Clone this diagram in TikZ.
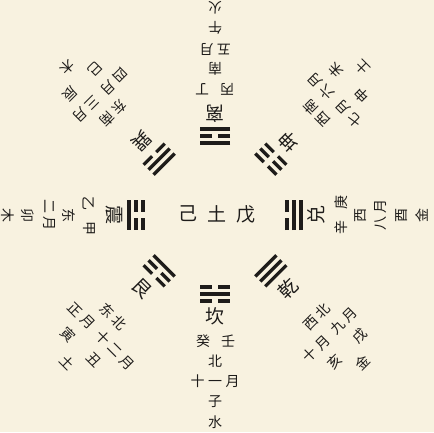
\documentclass[tikz,border=0pt]{standalone}
\usepackage{fontspec}
\newfontfamily\cjk{Noto Sans CJK SC}
\definecolor{bg}{RGB}{248,242,224}
\definecolor{ink}{RGB}{30,28,26}
\newcommand\chgap{\hspace{3.5pt}}
\tikzset{
 txt/.style={font=\cjk\fontsize{14}{14}\selectfont, text=ink, inner sep=0pt, transform shape},
 bigtxt/.style={font=\cjk\fontsize{19}{19}\selectfont, text=ink, inner sep=0pt, transform shape},
 yao/.style={line width=3.3pt, draw=ink},
}
\newcommand\yaoline[2]{%
 \ifnum#2=1 \draw[yao] (-15,#1) -- (15,#1);
 \else \draw[yao] (-15,#1) -- (-3,#1) (3,#1) -- (15,#1); \fi}
\newcommand\trig[4]{%
 \begin{scope}[shift={(215,-215)}, rotate=#1]
 \yaoline{-86}{#2}\yaoline{-79}{#3}\yaoline{-72}{#4}
 \end{scope}}
\newcommand\cardsec[9]{%
 \begin{scope}[shift={(215,-215)}, rotate=#1]
 \node[bigtxt] (#2n) at (0,-101) {#3};
 \node[txt] (#2sl) at (-12,-126) {#4};
 \node[txt] (#2sr) at (13,-126) {#5};
 \node[txt] (#2d) at (0,-146) {#6};
 \node[txt] (#2m) at (0,-166) {#7};
 \node[txt] (#2b) at (0,-187) {#8};
 \node[txt] (#2e) at (0,-207) {#9};
 \end{scope}}
\newcommand\diagsec[9]{%
 \begin{scope}[shift={(215,-215)}, rotate=#1]
 \node[bigtxt] (#2n) at (0,-104) {#3};
 \node[txt] (#2d) at (0,-144) {#4};
 \node[txt, anchor=east] (#2ml) at (-7,-166) {#5};
 \node[txt, anchor=west] (#2mr) at (0,-166) {#6};
 \node[txt] (#2bl) at (-19,-188) {#7};
 \node[txt] (#2br) at (17,-188) {#8};
 \node[txt] (#2e) at (0,-209) {#9};
 \end{scope}}
\begin{document}
\begin{tikzpicture}[x=1pt,y=1pt]
\useasboundingbox (0,0) rectangle (434,-432);
\fill[bg] (0,0) rectangle (434,-432);
% centre
\node[bigtxt] (ji) at (188,-214) {己};
\node[bigtxt] (tu) at (217,-214) {土};
\node[bigtxt] (wu) at (246,-214) {戊};
% cardinal sectors
\cardsec{0}{kan}{坎}{癸}{壬}{北}{十\chgap 一\chgap 月}{子}{水}
\cardsec{180}{li}{离}{丙}{丁}{南}{五\chgap 月}{午}{火}
\cardsec{-90}{zhen}{震}{乙}{甲}{东}{二\chgap 月}{卯}{木}
\cardsec{90}{dui}{兑}{辛}{庚}{西}{八\chgap 月}{酉}{金}
% diagonal sectors
\diagsec{-45}{gen}{艮}{东\chgap 北}{正\chgap 月}{十\chgap 二\chgap 月}{寅}{丑}{土}
\diagsec{-135}{xun}{巽}{东\chgap 南}{四\chgap 月}{三\chgap 月}{巳}{辰}{木}
\diagsec{135}{kun}{坤}{西\chgap 南}{七\chgap 月}{六\chgap 月}{申}{未}{土}
\diagsec{45}{qian}{乾}{西\chgap 北}{十\chgap 月}{九\chgap 月}{亥}{戌}{金}
% trigrams (bottom, middle, top line; top faces the centre)
\trig{0}{0}{1}{0}
\trig{180}{1}{0}{1}
\trig{-90}{1}{0}{0}
\trig{90}{1}{1}{0}
\trig{-45}{0}{0}{1}
\trig{-135}{0}{1}{1}
\trig{135}{0}{0}{0}
\trig{45}{1}{1}{1}
\end{tikzpicture}
\end{document}
